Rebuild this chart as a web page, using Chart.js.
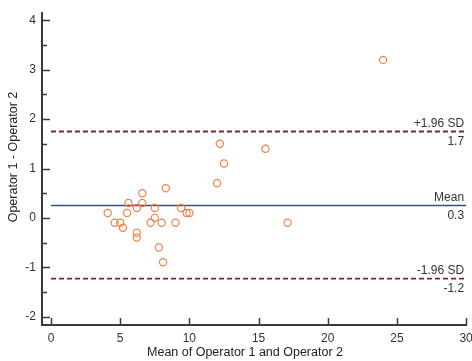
<!DOCTYPE html>
<html>
<head>
<meta charset="utf-8">
<script src="https://cdn.jsdelivr.net/npm/chart.js@4/dist/chart.umd.min.js"></script>
<style>
  body { margin: 0; background: #fff; }
  canvas { display: block; }
</style>
</head>
<body>
<canvas id="chart" width="472" height="361"></canvas>
<script>
// Bland-Altman data
const meanValues = [4.1, 4.6, 5.0, 5.2, 5.5, 5.6, 6.2, 6.2, 6.2, 6.6, 6.6, 7.2, 7.5, 7.5, 8.0, 7.8, 8.1, 8.3, 9.0, 9.4, 9.8, 10.0, 12.0, 17.1, 12.2, 15.5, 12.5, 24.0];
const diffValues = [0.1, -0.1, -0.1, -0.2, 0.1, 0.3, -0.3, -0.4, 0.2, 0.5, 0.3, -0.1, 0.0, 0.2, -0.1, -0.6, -0.9, 0.6, -0.1, 0.2, 0.1, 0.1, 0.7, -0.1, 1.5, 1.4, 1.1, 3.2];

const refNames = ['+1.96 SD', 'Mean', '-1.96 SD'];
const refValues = [1.75, 0.25, -1.23];
const refLabels = ['1.7', '0.3', '-1.2'];

const xTicks = [0, 5, 10, 15, 20, 25, 30];
const yTicks = [-2, -1, 0, 1, 2, 3, 4];
const yMinorTicks = [-1.5, -0.5, 0.5, 1.5, 2.5, 3.5];
const xRange = [0, 30];

const xTitle = 'Mean of Operator 1 and Operator 2';
const yTitle = 'Operator 1 - Operator 2';

const axisColor = '#3a3a3a';
const fontFamily = 'Liberation Sans, Arial, sans-serif';
const font = { family: fontFamily, size: 12 };

function refDataset(i) {
    const dashed = i !== 1;
    return {
        type: 'line',
        data: xRange.map(x => ({ x: x, y: refValues[i] })),
        borderColor: dashed ? '#8b2020' : '#3c45a8',
        borderWidth: dashed ? 1.8 : 1.5,
        borderDash: dashed ? [5, 3] : [],
        pointRadius: 0,
        order: 2
    };
}

// inward tick marks, axis titles and line captions
const tickPlugin = {
    id: 'tickPlugin',
    afterDraw(chart) {
        const ctx = chart.ctx;
        const xs = chart.scales.x, ys = chart.scales.y;
        const left = xs.left, bottom = ys.bottom;
        ctx.save();
        ctx.strokeStyle = axisColor;
        ctx.lineWidth = 1.5;
        ctx.beginPath();
        xTicks.forEach(v => {
            const px = Math.round(xs.getPixelForValue(v)) + 0.5;
            ctx.moveTo(px, bottom);
            ctx.lineTo(px, bottom - 7);
        });
        yTicks.forEach(v => {
            const py = Math.round(ys.getPixelForValue(v)) + 0.5;
            ctx.moveTo(left, py);
            ctx.lineTo(left + 8, py);
        });
        yMinorTicks.forEach(v => {
            const py = Math.round(ys.getPixelForValue(v)) + 0.5;
            ctx.moveTo(left, py);
            ctx.lineTo(left + 5, py);
        });
        ctx.stroke();

        ctx.fillStyle = '#333';
        ctx.font = '12px ' + fontFamily;
        ctx.textAlign = 'right';
        const rx = xs.getPixelForValue(xRange[1]) - 2;
        refValues.forEach((v, i) => {
            const py = ys.getPixelForValue(v);
            ctx.textBaseline = 'bottom';
            ctx.fillText(refNames[i], rx, py - 2);
            ctx.textBaseline = 'top';
            ctx.fillText(refLabels[i], rx, py + 4);
        });

        ctx.fillStyle = '#222';
        ctx.font = '12.5px ' + fontFamily;
        ctx.textAlign = 'center';
        ctx.textBaseline = 'middle';
        ctx.fillText(xTitle, 245, 353);
        ctx.translate(14, 157);
        ctx.rotate(-Math.PI / 2);
        ctx.fillText(yTitle, 0, 0);
        ctx.restore();
    }
};

new Chart(document.getElementById('chart'), {
    type: 'scatter',
    data: {
        datasets: [
            {
                data: meanValues.map((x, i) => ({ x: x, y: diffValues[i] })),
                borderColor: '#f2804c',
                backgroundColor: 'rgba(0,0,0,0)',
                borderWidth: 1.2,
                pointRadius: 3.6,
                order: 1
            },
            refDataset(0),
            refDataset(1),
            refDataset(2)
        ]
    },
    options: {
        responsive: false,
        animation: false,
        layout: { padding: { top: 13, right: 2, left: 0, bottom: 0 } },
        plugins: { legend: { display: false }, tooltip: { enabled: false } },
        scales: {
            x: {
                type: 'linear',
                min: -0.65,
                max: 30.05,
                afterBuildTicks: s => { s.ticks = xTicks.map(v => ({ value: v })); },
                afterFit: s => { s.height = 36; s.paddingLeft = 0; s.paddingRight = 0; },
                grid: { display: false, drawTicks: false },
                border: { display: true, color: axisColor, width: 2 },
                ticks: { color: '#333', font: font, padding: 6, maxRotation: 0, autoSkip: false }
            },
            y: {
                type: 'linear',
                min: -2.17,
                max: 4.15,
                afterBuildTicks: s => { s.ticks = yTicks.map(v => ({ value: v })); },
                afterFit: s => { s.width = 42; s.paddingTop = 0; s.paddingBottom = 0; },
                grid: { display: false, drawTicks: false },
                border: { display: true, color: axisColor, width: 2 },
                ticks: { color: '#333', font: font, padding: 6, autoSkip: false }
            }
        }
    },
    plugins: [tickPlugin]
});
</script>
</body>
</html>
